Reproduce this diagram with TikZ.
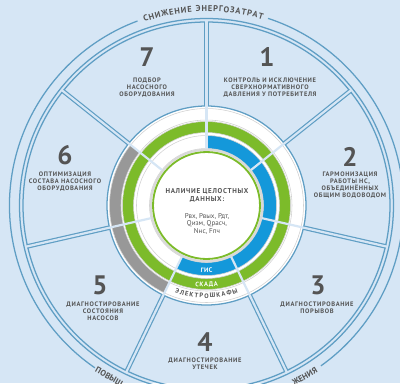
\documentclass[tikz,border=0pt]{standalone}
\usepackage{fontspec}
\setmainfont{PT Sans}
\newfontfamily\spacedfont[LetterSpace=10]{PT Sans}
\usetikzlibrary{decorations.text}

\definecolor{skyback}{RGB}{214,230,245}
\definecolor{rimblue}{RGB}{95,158,196}
\definecolor{scadagreen}{RGB}{124,187,42}
\definecolor{gisblue}{RGB}{20,152,218}
\definecolor{cabgray}{RGB}{152,152,152}
\definecolor{inkgray}{RGB}{84,84,84}

\newcommand{\taskfont}{\spacedfont\bfseries\fontsize{4.6}{5}\selectfont}
\newcommand{\tasknumfont}{\bfseries\fontsize{19}{19}\selectfont}
\newcommand{\rimfont}{\bfseries\fontsize{6}{6}\selectfont}
\newcommand{\bandfont}{\bfseries\fontsize{4.6}{5}\selectfont}

\begin{document}
\begin{tikzpicture}[x=0.025cm, y=0.025cm,
    rim/.style={draw=rimblue, line width=0.9pt},
    cell/.style={draw=black!18, line width=0.4pt},
    tasknum/.style={font=\tasknumfont, text=inkgray, inner sep=0pt},
    task/.style={font=\taskfont, text=inkgray, align=center, inner sep=0pt},
    core/.style={font=\spacedfont\bfseries\fontsize{5}{5.2}\selectfont, text=inkgray, align=center, inner sep=0pt},
    coredata/.style={font=\fontsize{5}{5.4}\selectfont, text=inkgray, align=center, inner sep=0pt},
    rimword/.style={font=\rimfont, text=inkgray, inner sep=0pt},
    arctext/.style={decorate, decoration={text along path, text align=fit to path, text={#1}}}
  ]

  % background, cut to the frame
  \fill[skyback] (-206.5,-177.5) rectangle (193.5,205.5);
  \useasboundingbox (-206.5,-177.5) rectangle (193.5,205.5);
  \clip (-206.5,-177.5) rectangle (193.5,205.5);

  % outer caption ring, open where the captions sit
  \draw[rim] (110.5:197) arc[start angle=110.5, end angle=235.5, radius=197];
  \draw[rim] (-54.5:197) arc[start angle=-54.5, end angle=71.8, radius=197];
  \path[arctext={|\rimfont\color{inkgray}|СНИЖЕНИЕ ЭНЕРГОЗАТРАТ}]
    (108.7:194) arc[start angle=108.7, end angle=73.2, radius=194];
  \node[rimword, rotate=-29.6] (boost) at (-119.6:197) {ПОВЫШ};
  \node[rimword, rotate=29.9] (supply) at (-60.1:197) {ЖЕНИЯ};

  % task sectors
  \draw[rim] (0,0) circle[radius=187];
  \draw[rim] (0,0) circle[radius=183.5];
  \draw[rim, fill=white] (0,0) circle[radius=99.5];

  % data rings: cabinets, SCADA, GIS -- one cell per task
  \foreach \k/\cab/\scada/\gis in {1/white/scadagreen/gisblue, 2/white/scadagreen/gisblue,
      3/white/scadagreen/gisblue, 4/white/scadagreen/gisblue, 5/cabgray/scadagreen/white,
      6/cabgray/scadagreen/white, 7/white/scadagreen/white} {
    \pgfmathsetmacro{\sa}{90-51.4286*\k}
    \pgfmathsetmacro{\ea}{\sa+51.4286}
    \filldraw[cell, fill=\cab] (\sa:85.5) arc[start angle=\sa, end angle=\ea, radius=85.5]
      -- (\ea:97) arc[start angle=\ea, end angle=\sa, radius=97] -- cycle;
    \filldraw[cell, fill=\scada] (\sa:73) arc[start angle=\sa, end angle=\ea, radius=73]
      -- (\ea:84) arc[start angle=\ea, end angle=\sa, radius=84] -- cycle;
    \filldraw[cell, fill=\gis] (\sa:57) arc[start angle=\sa, end angle=\ea, radius=57]
      -- (\ea:70) arc[start angle=\ea, end angle=\sa, radius=70] -- cycle;
  }

  % double divider lines between the tasks
  \foreach \k in {0,...,6} {
    \draw[rimblue, line width=3.25pt] ({90-51.4286*\k}:99.5) -- ({90-51.4286*\k}:184);
    \draw[skyback, line width=1.55pt] ({90-51.4286*\k}:54) -- ({90-51.4286*\k}:186);
  }

  % core disk
  \draw[black!15, line width=1.5pt] (0,0) circle[radius=55.8];
  \draw[scadagreen, fill=white, line width=1.3pt] (0,0) circle[radius=53.5];

  % ring names
  \path[arctext={|\bandfont\color{white}|ГИС}]
    (-95.1:67.5) arc[start angle=-95.1, end angle=-84.9, radius=67.5];
  \path[arctext={|\bandfont\color{white}|СКАДА}]
    (-98.1:81.5) arc[start angle=-98.1, end angle=-81.9, radius=81.5];
  \path[arctext={|\bandfont\color{inkgray}|ЭЛЕКТРОШКАФЫ}]
    (-110:92.5) arc[start angle=-110, end angle=-70, radius=92.5];

  % tasks
  \node[tasknum] (n7) at (-59.5,148.5) {7};
  \node[task] (t7) at (-59.5,118) {ПОДБОР\\НАСОСНОГО\\ОБОРУДОВАНИЯ};
  \node[tasknum] (n1) at (60.5,148.5) {1};
  \node[task] (t1) at (63.5,118) {КОНТРОЛЬ И ИСКЛЮЧЕНИЕ\\СВЕРХНОРМАТИВНОГО\\ДАВЛЕНИЯ У ПОТРЕБИТЕЛЯ};
  \node[tasknum] (n2) at (143.5,48.5) {2};
  \node[task] (t2) at (143.5,20.5) {ГАРМОНИЗАЦИЯ\\РАБОТЫ НС,\\ОБЪЕДИНЁННЫХ\\ОБЩИМ ВОДОВОДОМ};
  \node[tasknum] (n3) at (111.5,-79.5) {3};
  \node[task] (t3) at (110.5,-102) {ДИАГНОСТИРОВАНИЕ\\ПОРЫВОВ};
  \node[tasknum] (n4) at (-1.5,-136.5) {4};
  \node[task] (t4) at (-1.5,-158) {ДИАГНОСТИРОВАНИЕ\\УТЕЧЕК};
  \node[tasknum] (n5) at (-106.5,-79.5) {5};
  \node[task] (t5) at (-103.5,-105.5) {ДИАГНОСТИРОВАНИЕ\\СОСТОЯНИЯ\\НАСОСОВ};
  \node[tasknum] (n6) at (-141.5,50.5) {6};
  \node[task] (t6) at (-141.5,23.5) {ОПТИМИЗАЦИЯ\\СОСТАВА НАСОСНОГО\\ОБОРУДОВАНИЯ};

  % centre
  \node[core] (need) at (0.5,10) {НАЛИЧИЕ ЦЕЛОСТНЫХ\\ДАННЫХ:};
  \node[coredata] (params) at (0.5,-18.5) {Рвх, Рвых, Рдт,\\Qизм, Qрасч,\\Nнс, Fпч};

\end{tikzpicture}
\end{document}
